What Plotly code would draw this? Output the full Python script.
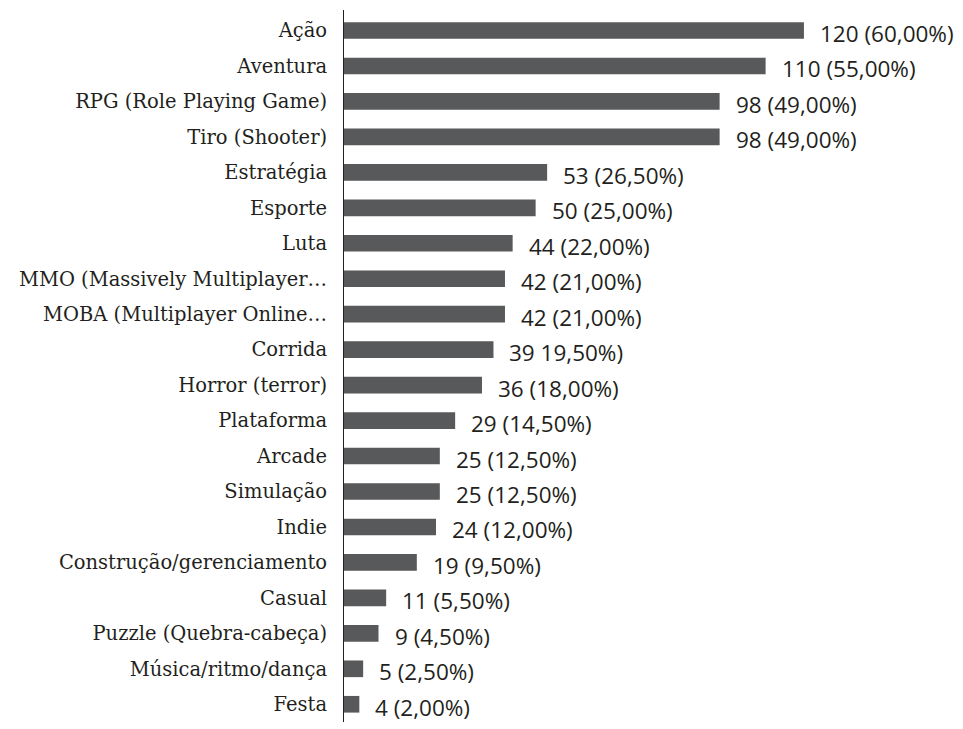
import plotly.graph_objects as go

categories = ["Ação", "Aventura", "RPG (Role Playing Game)", "Tiro (Shooter)", "Estratégia",
              "Esporte", "Luta", "MMO (Massively Multiplayer…", "MOBA (Multiplayer Online…",
              "Corrida", "Horror (terror)", "Plataforma", "Arcade", "Simulação", "Indie",
              "Construção/gerenciamento", "Casual", "Puzzle (Quebra-cabeça)",
              "Música/ritmo/dança", "Festa"]
values = [120, 110, 98, 98, 53, 50, 44, 42, 42, 39, 36, 29, 25, 25, 24, 19, 11, 9, 5, 4]
value_labels = ["120 (60,00%)", "110 (55,00%)", "98 (49,00%)", "98 (49,00%)", "53 (26,50%)",
                "50 (25,00%)", "44 (22,00%)", "42 (21,00%)", "42 (21,00%)", "39 19,50%)",
                "36 (18,00%)", "29 (14,50%)", "25 (12,50%)", "25 (12,50%)", "24 (12,00%)",
                "19 (9,50%)", "11 (5,50%)", "9 (4,50%)", "5 (2,50%)", "4 (2,00%)"]

fig = go.Figure(go.Bar(
    x=values, y=categories, orientation="h",
    marker=dict(color="#58595b", line=dict(width=0)),
    width=0.47, hoverinfo="skip",
))

for c, v, t in zip(categories, values, value_labels):
    fig.add_annotation(x=v, y=c, text=t, showarrow=False, xanchor="left", yanchor="middle",
                       xshift=14, yshift=-3,
                       font=dict(family="Open Sans", size=22.5, color="#231f20"))

fig.update_layout(
    width=955, height=721,
    margin=dict(l=336, r=0, t=2, b=7, autoexpand=False),
    plot_bgcolor="white", paper_bgcolor="white",
    showlegend=False,
    xaxis=dict(range=[0, 161.5], visible=False, fixedrange=True),
    yaxis=dict(autorange="reversed", showline=True, linecolor="#231f20", linewidth=1,
               ticks="", showgrid=False, zeroline=False, ticklabelstandoff=12,
               automargin=False,
               tickfont=dict(family="DejaVu Serif", size=19.5, color="#231f20")),
)

fig.write_html("out.html")
